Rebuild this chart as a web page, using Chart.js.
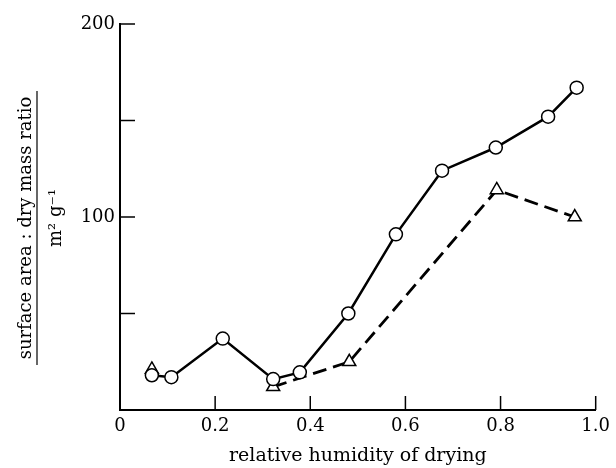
<!DOCTYPE html>
<html>
<head>
<meta charset="utf-8">
<script src="https://cdn.jsdelivr.net/npm/chart.js@4/dist/chart.umd.min.js"></script>
<style>
html, body { margin: 0; padding: 0; background: #fff; }
</style>
</head>
<body>
<canvas id="myChart" width="616" height="468"></canvas>
<script>
// circles, solid line
const circleX = [0.067, 0.108, 0.216, 0.322, 0.378, 0.480, 0.580, 0.677, 0.790, 0.900, 0.960]
const circleY = [18, 17, 37, 16, 19.5, 50, 91, 124, 136, 152, 167]
// triangles, dashed line (no line from the first one)
const triangleX = [0.067, 0.322, 0.482, 0.792, 0.956]
const triangleY = [21, 12, 25, 114, 100]

const xTicks = [0, 0.2, 0.4, 0.6, 0.8, 1.0]
const yLabelled = [100, 200]

const serif = 'DejaVu Serif'
const ink = '#000'

function toPoints(xs, ys) {
    const pts = []
    for (let i = 0; i < xs.length; i++) {
        pts.push({ x: xs[i], y: ys[i] })
    }
    return pts
}

// ticks pointing into the plot, like the printed figure
const inwardTicks = {
    id: 'inwardTicks',
    afterDraw(chart) {
        const ctx = chart.ctx
        const xs = chart.scales.x
        const ys = chart.scales.y
        const area = chart.chartArea
        ctx.save()
        ctx.strokeStyle = ink
        ctx.lineWidth = 1.5
        xs.ticks.forEach(t => {
            if (t.value === 0) return
            const px = xs.getPixelForValue(t.value)
            ctx.beginPath()
            ctx.moveTo(px, area.bottom)
            ctx.lineTo(px, area.bottom - 14)
            ctx.stroke()
        })
        ys.ticks.forEach(t => {
            if (t.value === 0) return
            const py = ys.getPixelForValue(t.value)
            ctx.beginPath()
            ctx.moveTo(area.left, py)
            ctx.lineTo(area.left + 15, py)
            ctx.stroke()
        })
        ctx.restore()
    }
}

// y title written as a fraction: quantity over unit
const yFraction = {
    id: 'yFraction',
    afterDraw(chart) {
        const ctx = chart.ctx
        ctx.save()
        ctx.translate(0, 228)
        ctx.rotate(-Math.PI / 2)
        ctx.fillStyle = ink
        ctx.textAlign = 'center'
        ctx.textBaseline = 'alphabetic'
        ctx.font = '18px "' + serif + '"'
        ctx.fillText('surface area : dry mass ratio', 0, 31)
        ctx.strokeStyle = ink
        ctx.lineWidth = 1.2
        ctx.beginPath()
        ctx.moveTo(-137, 37)
        ctx.lineTo(137, 37)
        ctx.stroke()
        ctx.fillText('m² g⁻¹', 10, 61)
        ctx.restore()
    }
}

const ctx = document.getElementById('myChart')

const config = {
    type: 'scatter',
    data: {
        datasets: [{
            label: 'circles',
            data: toPoints(circleX, circleY),
            showLine: true,
            borderColor: ink,
            borderWidth: 2.5,
            pointStyle: 'circle',
            pointRadius: 6.5,
            pointBackgroundColor: '#fff',
            pointBorderColor: ink,
            pointBorderWidth: 1.5,
            order: 1
        }, {
            label: 'triangles',
            data: toPoints(triangleX, triangleY),
            showLine: true,
            borderColor: ink,
            borderWidth: 2.8,
            borderDash: [14, 7],
            segment: {
                borderColor: c => c.p0DataIndex === 0 ? 'rgba(0,0,0,0)' : ink
            },
            pointStyle: 'triangle',
            pointRadius: 7.5,
            pointBackgroundColor: '#fff',
            pointBorderColor: ink,
            pointBorderWidth: 1.5,
            order: 2
        }]
    },
    options: {
        responsive: false,
        animation: false,
        layout: {
            padding: { top: 24, right: 14, left: 0, bottom: 0 }
        },
        plugins: {
            legend: { display: false },
            tooltip: { enabled: false }
        },
        scales: {
            x: {
                type: 'linear',
                min: 0,
                max: 1,
                afterBuildTicks: s => { s.ticks = xTicks.map(v => ({ value: v })) },
                afterFit: s => { s.height = 58 },
                border: { color: ink, width: 2 },
                grid: { display: true, drawOnChartArea: false, drawTicks: false },
                ticks: {
                    color: ink,
                    padding: 6,
                    maxRotation: 0,
                    font: { family: serif, size: 18 },
                    callback: v => v === 0 ? '0' : v.toFixed(1)
                },
                title: {
                    display: true,
                    text: 'relative humidity of drying',
                    color: ink,
                    font: { family: serif, size: 19 },
                    padding: { top: 2, bottom: 1 }
                }
            },
            y: {
                type: 'linear',
                min: 0,
                max: 200,
                afterFit: s => { s.width = 120 },
                border: { color: ink, width: 2 },
                grid: { display: true, drawOnChartArea: false, drawTicks: false },
                ticks: {
                    stepSize: 50,
                    color: ink,
                    padding: 5,
                    font: { family: serif, size: 18 },
                    callback: v => yLabelled.includes(v) ? String(v) : ''
                }
            }
        }
    },
    plugins: [inwardTicks, yFraction]
}

const myChart = new Chart(ctx, config)
</script>
</body>
</html>
